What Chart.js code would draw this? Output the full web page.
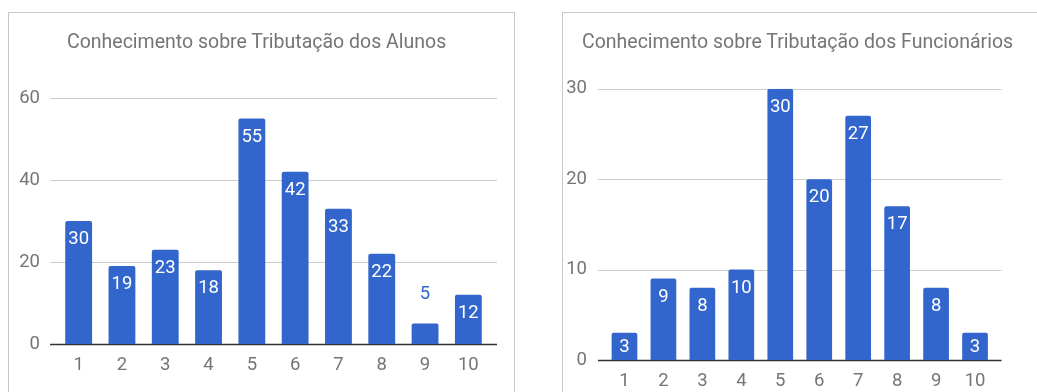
<!DOCTYPE html>
<html>
<head>
<meta charset="utf-8">
<script src="https://cdn.jsdelivr.net/npm/chart.js@4/dist/chart.umd.min.js"></script>
<style>
  html, body { margin: 0; padding: 0; background: #fff; width: 1037px; height: 392px; overflow: hidden; position: relative; font-family: Roboto, sans-serif; }
  .panel { position: absolute; border: 1px solid #c8c8c8; box-sizing: border-box; background: #fff; }
  .title { position: absolute; font-family: Roboto, sans-serif; font-size: 19.5px; color: #757575; white-space: nowrap; line-height: 20px; }
  canvas { position: absolute; top: 0; }
</style>
</head>
<body>
<div class="panel" style="left:8px; top:12px; width:507px; height:400px;"></div>
<div class="panel" style="left:562px; top:12px; width:500px; height:400px;"></div>
<canvas id="c1" width="520" height="392" style="left:0px;"></canvas>
<canvas id="c2" width="517" height="392" style="left:520px;"></canvas>
<div class="title" style="left:67px; top:32px;">Conhecimento sobre Tributação dos Alunos</div>
<div class="title" style="left:582px; top:32px;">Conhecimento sobre Tributação dos Funcionários</div>
<script>
const categories = ['1','2','3','4','5','6','7','8','9','10'];
const alunosValues = [30, 19, 23, 18, 55, 42, 33, 22, 5, 12];
const funcionariosValues = [3, 9, 8, 10, 30, 20, 27, 17, 8, 3];
const alunosTicks = [0, 20, 40, 60];
const funcionariosTicks = [0, 10, 20, 30];

const BLUE = '#3366cc';
const GRID = '#cccccc';
const TEXT = '#757575';
const FONT = 'Roboto, sans-serif';

const gridPlugin = {
  id: 'extGrid',
  beforeDatasetsDraw(chart) {
    const ctx = chart.ctx, ca = chart.chartArea, ys = chart.scales.y;
    ctx.save();
    ys.ticks.forEach(t => {
      const y = Math.round(ys.getPixelForValue(t.value)) + 0.5;
      ctx.strokeStyle = t.value === 0 ? '#333333' : GRID;
      ctx.lineWidth = t.value === 0 ? 1.5 : 1;
      ctx.beginPath();
      ctx.moveTo(ca.left - 7, y);
      ctx.lineTo(ca.right + 7, y);
      ctx.stroke();
    });
    ctx.restore();
  }
};

const labelPlugin = {
  id: 'barLabels',
  afterDatasetsDraw(chart) {
    const ctx = chart.ctx;
    const meta = chart.getDatasetMeta(0);
    const data = chart.data.datasets[0].data;
    ctx.save();
    ctx.font = '18.5px ' + FONT;
    ctx.textAlign = 'center';
    ctx.textBaseline = 'middle';
    meta.data.forEach((el, i) => {
      const h = el.base - el.y;
      let cy, color;
      if (h >= 25) { cy = el.y + Math.min(17.5, h / 2); color = '#ffffff'; }
      else { cy = el.y - 30; color = BLUE; }
      ctx.fillStyle = color;
      ctx.fillText(String(data[i]), el.x, cy + 1);
    });
    ctx.restore();
  }
};

function makeChart(id, values, ticks, opts) {
  return new Chart(document.getElementById(id), {
    type: 'bar',
    data: {
      labels: categories,
      datasets: [{
        data: values,
        backgroundColor: BLUE,
        borderRadius: 2,
        borderSkipped: 'bottom',
        barPercentage: opts.barPct,
        categoryPercentage: 1
      }]
    },
    options: {
      responsive: false,
      animation: false,
      devicePixelRatio: 1,
      layout: { padding: { top: opts.top, right: opts.right, left: 0, bottom: 0 } },
      plugins: { legend: { display: false }, tooltip: { enabled: false }, title: { display: false } },
      scales: {
        x: {
          offset: true,
          grid: { display: false, drawTicks: false },
          border: { display: false },
          ticks: { color: TEXT, font: { family: FONT, size: 18.5 }, padding: opts.xPad, maxRotation: 0, autoSkip: false },
          afterFit(s) { s.height = opts.xHeight; }
        },
        y: {
          min: ticks[0],
          max: ticks[ticks.length - 1],
          afterBuildTicks(s) { s.ticks = ticks.map(v => ({ value: v })); },
          grid: { display: false, drawTicks: false },
          border: { display: false },
          ticks: { color: TEXT, font: { family: FONT, size: 18.5 }, padding: opts.yPad },
          afterFit(s) { s.width = opts.yWidth; }
        }
      }
    },
    plugins: [gridPlugin, labelPlugin]
  });
}

makeChart('c1', alunosValues, alunosTicks, { top: 98, right: 30, yWidth: 57, xHeight: 48, yPad: 17, xPad: 10, barPct: 0.62 });
makeChart('c2', funcionariosValues, funcionariosTicks, { top: 88.7, right: 42.5, yWidth: 85, xHeight: 32, yPad: 18, xPad: 10.5, barPct: 0.66 });
</script>
</body>
</html>
